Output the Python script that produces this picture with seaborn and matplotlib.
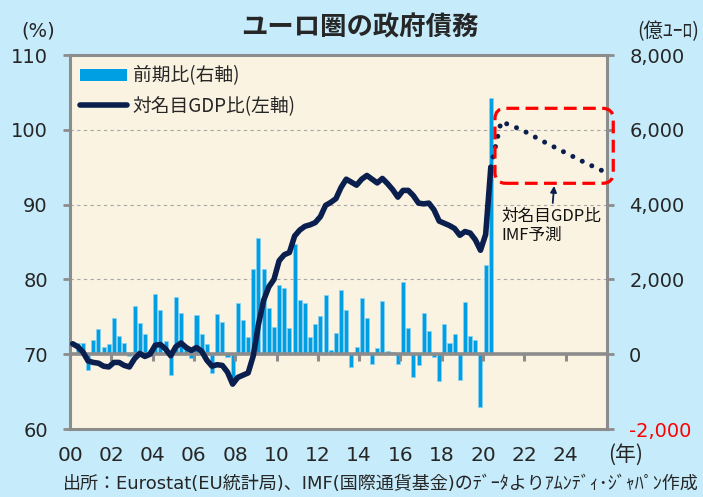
import matplotlib
matplotlib.use("Agg")
import matplotlib.pyplot as plt
from matplotlib.patches import Patch, FancyBboxPatch
from matplotlib.lines import Line2D
import numpy as np
import pandas as pd
import seaborn as sns

# ---------------- data ----------------
# quarter-on-quarter change of euro-area government debt (100 mn EUR), 2000Q2 .. 2020Q2
bar_start_year = 2000
bar_start_quarter = 2
bar_values = [
    300, 300, -430, 390, 670, 200, 270, 960, 480, 300,
    -50, 1290, 840, 535, 100, 1600, 1180, 350, -560, 1520,
    1090, 150, -100, 1040, 550, 285, -500, 1070, 860, -80,
    -700, 1380, 910, 460, 2290, 3120, 2290, 1240, 730, 1860,
    1780, 700, 2960, 1440, 1370, 460, 800, 1020, 1590, 125,
    580, 1720, 1195, -340, 180, 1490, 955, -250, 170, 1430,
    80, 50, -250, 1930, 710, -600, -285, 1090, 615, -70,
    -720, 820, 300, 535, -680, 1390, 500, 380, -1410, 2380,
    6850,
]

# debt / nominal GDP (%), 2000Q1 .. 2020Q2
line_start_year = 2000
line_start_quarter = 1
gdp_ratio = [
    71.4, 71.0, 70.3, 69.1, 68.9, 68.8, 68.4, 68.3, 68.9, 68.9,
    68.5, 68.3, 69.4, 70.1, 69.7, 70.0, 71.2, 71.3, 70.7, 69.8,
    71.0, 71.5, 70.9, 70.5, 70.9, 70.4, 69.2, 68.4, 68.6, 68.5,
    67.6, 66.0, 66.9, 67.2, 67.5, 69.8, 74.0, 77.2, 79.0, 80.0,
    82.5, 83.3, 83.6, 85.8, 86.6, 87.1, 87.3, 87.6, 88.4, 89.9,
    90.3, 90.8, 92.3, 93.4, 93.0, 92.6, 93.4, 93.9, 93.4, 92.9,
    93.5, 92.8, 92.0, 91.0, 91.9, 91.9, 91.2, 90.2, 90.1, 90.2,
    89.3, 87.8, 87.5, 87.2, 86.8, 85.9, 86.4, 86.2, 85.3, 83.9,
    86.0, 95.0,
]

# IMF projection (annual, plotted at Q4)
imf_years = [2020, 2021, 2022, 2023, 2024, 2025]
imf_values = [101.1, 100.0, 98.5, 97.1, 95.7, 94.4]

xtick_years = list(range(2000, 2025, 2))
xtick_labels = ["00", "02", "04", "06", "08", "10", "12", "14", "16", "18", "20", "22", "24"]
left_ticks = [60, 70, 80, 90, 100, 110]
right_ticks = [-2000, 0, 2000, 4000, 6000, 8000]
right_labels = ["-2,000", "0", "2,000", "4,000", "6,000", "8,000"]

title = "ユーロ圏の政府債務"
legend_bar = "前期比(右軸)"
legend_line = "対名目GDP比(左軸)"
annot_text = "対名目GDP比\nIMF予測"
source = "出所：Eurostat(EU統計局)、IMF(国際通貨基金)のﾃﾞｰﾀよりｱﾑﾝﾃﾞｨ･ｼﾞｬﾊﾟﾝ作成"

# ---------------- positions ----------------
def qpos(y0, q0, n):
    idx = np.arange(n) + (q0 - 1)
    return y0 + (idx + 0.5) / 4.0

bars = pd.DataFrame({"x": qpos(bar_start_year, bar_start_quarter, len(bar_values)),
                     "v": bar_values})
line = pd.DataFrame({"x": qpos(line_start_year, line_start_quarter, len(gdp_ratio)),
                     "v": gdp_ratio})
proj = pd.DataFrame({"x": np.array(imf_years) + 0.875, "v": imf_values})
proj = pd.concat([line.iloc[[-1]], proj], ignore_index=True)

# ---------------- style ----------------
sns.set_style("white")
plt.rcParams["font.family"] = ["DejaVu Sans", "Noto Sans CJK JP"]
JP = ["Noto Sans CJK JP", "DejaVu Sans"]

FIG_BG = "#C6EBFB"
AX_BG = "#FAF3E1"
BAR_C = "#009FE3"
NAVY = "#0B1F4E"
GRAY = "#8C8C8C"
RED = "#FF0000"

L, R, T, B = 0.0996, 0.8634, 0.8893, 0.1368
fig = plt.figure(figsize=(7.03, 4.97), dpi=100, facecolor=FIG_BG)
ax = fig.add_axes([L, B, R - L, T - B])
ax.set_facecolor(AX_BG)

sns.barplot(data=bars, x="x", y="v", native_scale=True, width=0.78, color=BAR_C,
            saturation=1, errorbar=None, edgecolor="#8AD2F2", linewidth=0.5, ax=ax)

ax.set_ylim(-2000, 8000)
ax.set_xlim(2000, 2026)
ax.set_axisbelow(True)
ax.grid(axis="y", color="#A8A8A8", linestyle=(0, (3, 3)), linewidth=0.8)
ax.grid(axis="x", visible=False)
ax.axhline(0, color=GRAY, linewidth=2.6, zorder=2.5)
ax.set_xlabel("")
ax.set_ylabel("")
for s in ax.spines.values():
    s.set_visible(True)
    s.set_color(GRAY)
    s.set_linewidth(2.2)

# even-year ticks hanging from the zero line
sec = ax.secondary_xaxis(0.2)
sec.set_xticks(xtick_years)
sec.tick_params(axis="x", direction="out", length=5, width=2.2, color=GRAY,
                labelbottom=False, labeltop=False, bottom=True, top=False)
for s in sec.spines.values():
    s.set_visible(False)
sec.set_zorder(5)

# line axis (left)
ax2 = ax.twinx()
ax2.patch.set_visible(False)
for s in ax2.spines.values():
    s.set_visible(False)

sns.lineplot(data=line, x="x", y="v", color=NAVY, linewidth=4, ax=ax2,
             solid_capstyle="round", solid_joinstyle="round")
sns.lineplot(data=proj, x="x", y="v", color=NAVY, linewidth=3.6, ax=ax2,
             linestyle=(0, (0.01, 2.1)), dash_capstyle="round")
ax2.set_ylim(60, 110)
ax2.set_xlim(2000, 2026)
ax2.set_xlabel("")
ax2.set_ylabel("")
ax2.grid(False)

# axis placement: left = ratio (ax2), right = change (ax)
ax2.yaxis.tick_left()
ax2.yaxis.set_label_position("left")
ax.yaxis.tick_right()
ax.yaxis.set_label_position("right")

ax2.set_yticks(left_ticks)
ax2.set_yticklabels([str(v) for v in left_ticks])
ax2.tick_params(axis="y", left=True, right=False, labelleft=True, labelright=False,
                direction="out", length=5, width=2, color=GRAY, pad=11, labelsize=14)

ax.set_yticks(right_ticks)
ax.set_yticklabels(right_labels)
ax.tick_params(axis="y", left=False, right=True, labelleft=False, labelright=True,
               direction="out", length=5, width=2, color=GRAY, pad=11, labelsize=14)
for t in ax.get_yticklabels():
    if t.get_text().startswith("-"):
        t.set_color(RED)

ax.set_xticks(xtick_years)
ax.set_xticklabels(xtick_labels)
ax.tick_params(axis="x", length=0, pad=12, labelsize=14.5)

# red dashed rounded box around projection (axes coords)
aw = (R - L) * 703
ah = (T - B) * 497
box = FancyBboxPatch((0.7914, 0.657), 1.0117 - 0.7914, 0.8575 - 0.657,
                     boxstyle="round,pad=0,rounding_size=0.02",
                     mutation_aspect=aw / ah, transform=ax2.transAxes,
                     fill=False, edgecolor=RED, linewidth=2.3,
                     linestyle=(0, (4, 2)), clip_on=False, zorder=6)
ax2.add_patch(box)

ax2.annotate(annot_text, xy=(2023.44, 92.5), xytext=(2020.87, 89.6),
             ha="left", va="top", fontsize=12, color="#111111", linespacing=1.15,
             family=JP,
             arrowprops=dict(arrowstyle="-|>", color=NAVY, lw=1.3,
                             mutation_scale=9, shrinkA=1, shrinkB=0))

handles = [Patch(facecolor=BAR_C, edgecolor="none"),
           Line2D([0], [0], color=NAVY, linewidth=4, solid_capstyle="round")]
leg = ax2.legend(handles, [legend_bar, legend_line], loc="upper left",
                 bbox_to_anchor=(0.0, 1.0), frameon=False,
                 prop={"family": JP, "size": 13.5},
                 handlelength=2.5, handleheight=0.6, handletextpad=0.3,
                 labelspacing=0.5, borderpad=0.1, borderaxespad=0.45)

# texts
fig.text(0.512, 0.944, title, fontsize=19, weight="bold", ha="center", va="center",
         family=JP)
fig.text(0.054, 0.938, "(%)", fontsize=14, ha="center", va="center")
fig.text(0.951, 0.936, "(億ﾕｰﾛ)", fontsize=14, ha="center", va="center", family=JP)
fig.text(0.890, 0.0845, "(年)", fontsize=15, ha="center", va="center", family=JP)
fig.text(0.994, 0.026, source, fontsize=13, ha="right", va="center")

fig.savefig("out.png", dpi=100, facecolor=FIG_BG)
